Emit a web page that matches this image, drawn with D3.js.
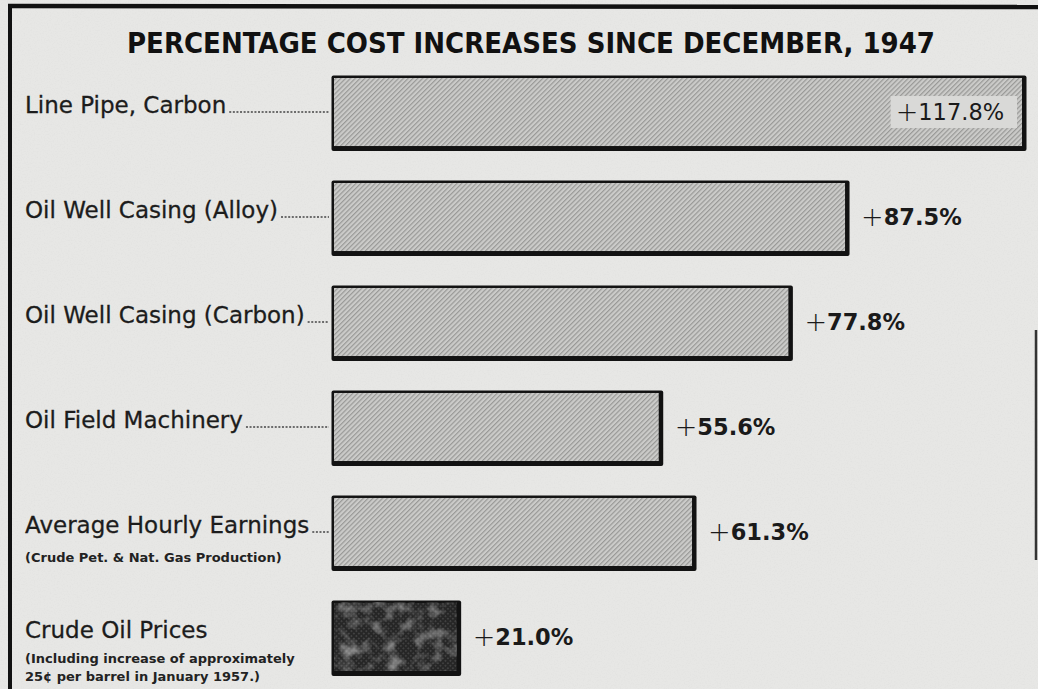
<!DOCTYPE html>
<html><head><meta charset="utf-8">
<script src="https://cdn.jsdelivr.net/npm/d3@7"></script>
<style>body{margin:0;background:#e7e7e5;} svg{display:block}</style>
</head><body><svg id="c" width="1038" height="689"></svg>
<script>
const title = "PERCENTAGE COST INCREASES SINCE DECEMBER, 1947";
const categories = ["Line Pipe, Carbon", "Oil Well Casing (Alloy)", "Oil Well Casing (Carbon)", "Oil Field Machinery", "Average Hourly Earnings", "Crude Oil Prices"];
const subLabels = [[], [], [], [], ["(Crude Pet. & Nat. Gas Production)"], ["(Including increase of approximately", "25¢ per barrel in January 1957.)"]];
const values = [117.8, 87.5, 77.8, 55.6, 61.3, 21.0];
const valueLabels = ["117.8%", "87.5%", "77.8%", "55.6%", "61.3%", "21.0%"];
const darkBar = [false, false, false, false, false, true];
const leaders = [true, true, true, true, true, false];

const W = 1038, H = 689;
const svg = d3.select("#c");
const defs = svg.append("defs");

const hatch = defs.append("pattern").attr("id", "hatch").attr("patternUnits", "userSpaceOnUse")
  .attr("width", 3.4).attr("height", 3.4).attr("patternTransform", "rotate(45)");
hatch.append("rect").attr("width", 3.4).attr("height", 3.4).attr("fill", "#cbcbc9");
hatch.append("rect").attr("width", 1.2).attr("height", 3.4).attr("fill", "#999997");

const grain = defs.append("filter").attr("id", "grain").attr("x", 0).attr("y", 0).attr("width", "100%").attr("height", "100%");
grain.append("feTurbulence").attr("type", "fractalNoise").attr("baseFrequency", 0.7).attr("numOctaves", 2).attr("seed", 5);
grain.append("feColorMatrix").attr("type", "matrix")
  .attr("values", "0 0 0 0 0.55  0 0 0 0 0.55  0 0 0 0 0.55  1.2 0 0 0 -0.55");

const mottle = defs.append("filter").attr("id", "mottle").attr("x", 0).attr("y", 0).attr("width", "100%").attr("height", "100%");
mottle.append("feTurbulence").attr("type", "fractalNoise").attr("baseFrequency", 0.07).attr("numOctaves", 3).attr("seed", 11);
mottle.append("feColorMatrix").attr("type", "matrix")
  .attr("values", "0 0 0 0 0.45  0 0 0 0 0.45  0 0 0 0 0.45  1.6 0 0 0 -0.7");

const dots = defs.append("pattern").attr("id", "dots").attr("patternUnits", "userSpaceOnUse")
  .attr("width", 3.5).attr("height", 3.5).attr("patternTransform", "rotate(45)");
dots.append("rect").attr("width", 3.5).attr("height", 3.5).attr("fill", "#262626");
dots.append("circle").attr("cx", 1.75).attr("cy", 1.75).attr("r", 0.9).attr("fill", "#484848");

// background + frame
svg.append("rect").attr("width", W).attr("height", H).attr("fill", "#e7e7e5");
svg.append("rect").attr("width", W).attr("height", H).attr("filter", "url(#grain)").attr("opacity", 0.25);
svg.append("line").attr("x1", 8).attr("x2", W).attr("y1", 6).attr("y2", 7).attr("stroke", "#111").attr("stroke-width", 4.5);
svg.append("line").attr("x1", 10).attr("x2", 10).attr("y1", 4).attr("y2", H).attr("stroke", "#111").attr("stroke-width", 4);
svg.append("line").attr("x1", 1036).attr("x2", 1036).attr("y1", 330).attr("y2", 560).attr("stroke", "#333").attr("stroke-width", 2.5);

svg.append("text").attr("x", 531).attr("y", 53).attr("text-anchor", "middle")
  .attr("font-family", "DejaVu Sans Condensed, DejaVu Sans").attr("font-weight", "bold").attr("font-size", 29)
  .attr("fill", "#111").attr("textLength", 808).attr("lengthAdjust", "spacingAndGlyphs").text(title);

const x = d3.scaleLinear().domain([0, d3.max(values)]).range([334, 1022]);
const y = d3.scaleBand().domain(categories).range([78, 671]).paddingInner(0.352);
const bw = y.bandwidth();

const rows = svg.append("g").selectAll("g").data(categories).join("g");

// bars: shadow frame then fill
rows.append("rect")
  .attr("x", x(0) - 2.5).attr("y", d => y(d) - 2.5)
  .attr("width", (d, i) => x(values[i]) - x(0) + 7).attr("height", bw + 7.5)
  .attr("rx", 2).attr("fill", "#121212");
rows.append("rect")
  .attr("x", x(0)).attr("y", d => y(d))
  .attr("width", (d, i) => x(values[i]) - x(0)).attr("height", bw)
  .attr("fill", (d, i) => darkBar[i] ? "url(#dots)" : "url(#hatch)");
rows.filter((d, i) => darkBar[i]).append("rect")
  .attr("x", x(0)).attr("y", d => y(d))
  .attr("width", d => x(values[categories.indexOf(d)]) - x(0)).attr("height", bw)
  .attr("filter", "url(#mottle)");

// category labels
const lab = rows.append("text")
  .attr("x", 25).attr("y", d => y(d) + bw / 2 + 1)
  .attr("font-family", "DejaVu Sans").attr("font-size", 23)
  .attr("fill", "#1c1c1c").attr("stroke", "#1c1c1c").attr("stroke-width", 0.3).text(d => d);
lab.each(function (d, i) {
  if (!leaders[i]) return;
  const w = this.getComputedTextLength();
  d3.select(this.parentNode).append("line")
    .attr("x1", 25 + w + 3).attr("x2", x(0) - 5)
    .attr("y1", y(d) + bw / 2).attr("y2", y(d) + bw / 2)
    .attr("stroke", "#444").attr("stroke-width", 1.4).attr("stroke-dasharray", "2,1.6");
});

// sub labels
rows.each(function (d, i) {
  const g = d3.select(this);
  const base = y(d) + bw / 2;
  const off = subLabels[i].length > 1 ? 26 : 30;
  subLabels[i].forEach((s, k) => {
    g.append("text").attr("x", 25).attr("y", base + off + k * 18)
      .attr("font-family", "DejaVu Sans").attr("font-weight", "bold").attr("font-size", 13)
      .attr("fill", "#222").text(s);
  });
});

// value labels
rows.each(function (d, i) {
  const g = d3.select(this);
  const cy = y(d) + bw / 2 + 8;
  const t = g.append("text").attr("y", cy).attr("font-family", "DejaVu Sans").attr("font-size", 22.5).attr("fill", "#1a1a1a");
  t.append("tspan").attr("font-weight", "200").attr("font-size", 27).attr("dy", 1).text("+");
  t.append("tspan").attr("font-weight", "bold").attr("dy", -1).text(valueLabels[i]);
  const w = t.node().getComputedTextLength();
  const outsideX = x(values[i]) + 16;
  if (outsideX + w > W - 10) {
    const tx = x(values[i]) - 10 - w;
    t.attr("x", tx);
    g.insert("rect", "text:last-of-type")
      .attr("x", tx - 5).attr("y", y(d) + bw / 2 - 16).attr("width", w + 10).attr("height", 32)
      .attr("fill", "#d9d9d7");
    t.raise();
    t.selectAll("tspan").filter((_, k) => k === 1).attr("font-weight", "normal");
  } else {
    t.attr("x", outsideX);
  }
});
</script></body></html>
